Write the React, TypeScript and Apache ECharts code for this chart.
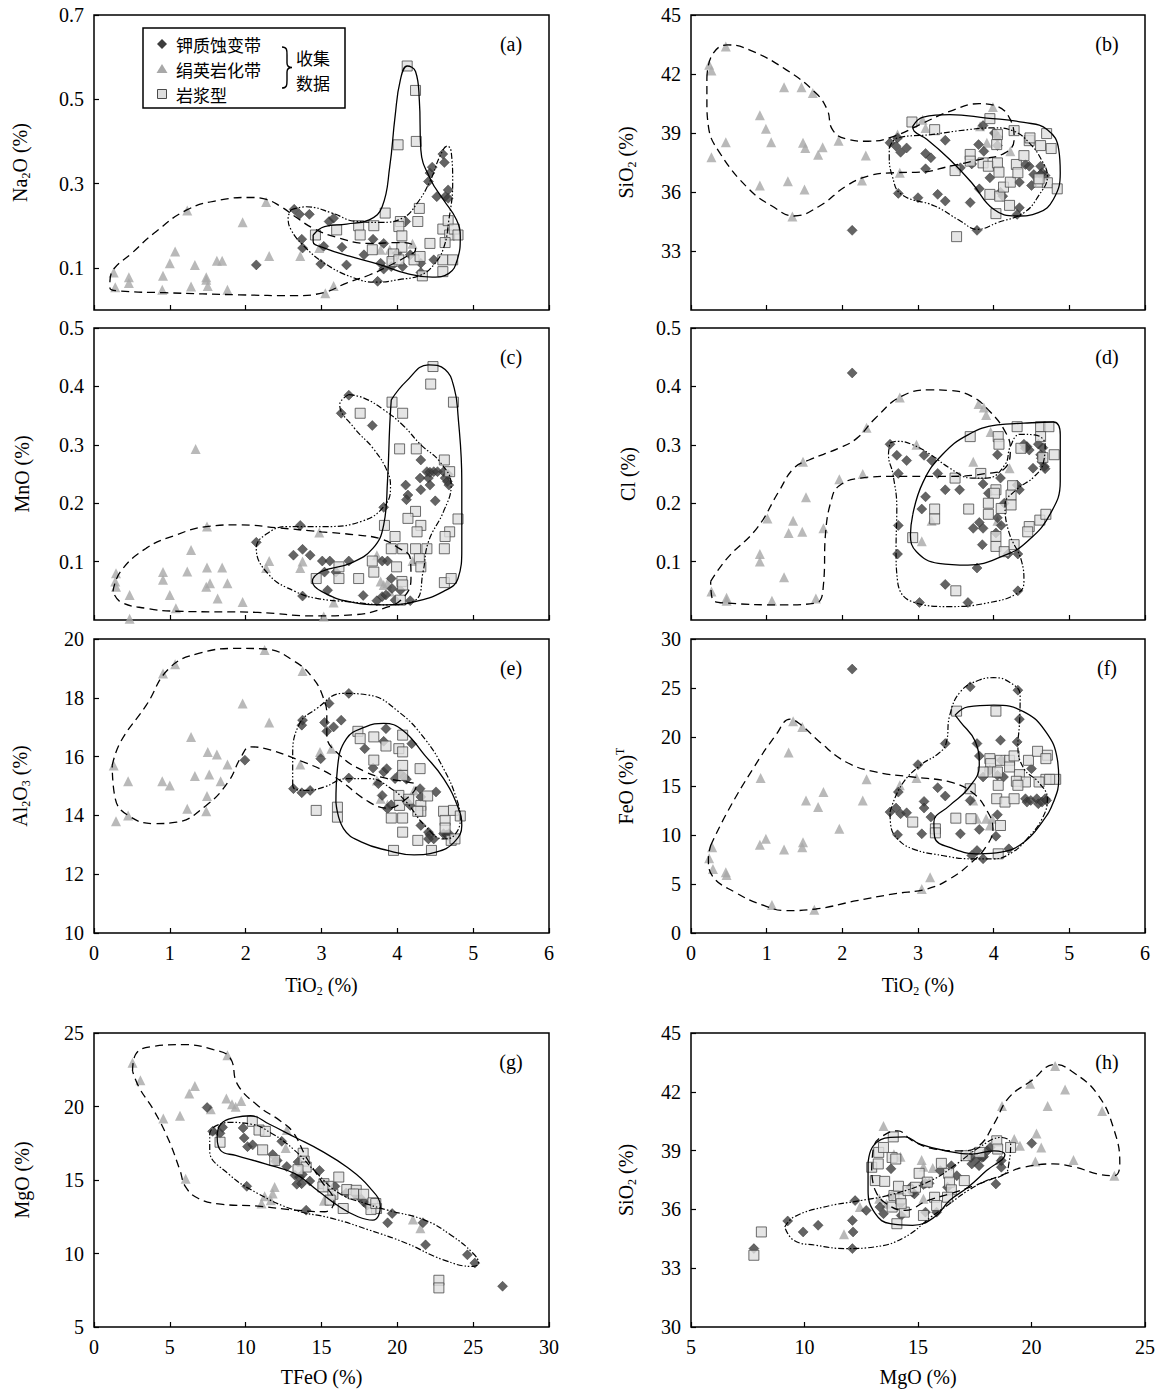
import React, { useEffect, useRef } from "react";
import * as echarts from "echarts";

const SERIF = '"Liberation Serif", "Times New Roman", serif';
const CJK = '"Noto Sans CJK SC", "Noto Sans CJK JP", sans-serif';

// ---------- (a) TiO2 vs Na2O ----------
const kA = [[2.64,0.239],[2.71,0.227],[2.84,0.227],[3.10,0.21],[3.16,0.218],[2.74,0.168],[2.75,0.147],[3.03,0.151],[3.27,0.149],[2.99,0.109],[3.33,0.107],[2.14,0.107],[3.56,0.131],[3.68,0.168],[3.82,0.158],[3.74,0.068],[3.82,0.097],[3.92,0.103],[4.07,0.103],[4.11,0.21],[4.17,0.131],[4.31,0.111],[4.31,0.089],[4.41,0.305],[4.43,0.325],[4.46,0.339],[4.60,0.37],[4.62,0.35],[4.52,0.269],[4.63,0.269],[4.67,0.285],[4.67,0.265],[4.48,0.119],[3.78,0.111],[4.0,0.135]];
const serA = [[0.26,0.089],[0.28,0.054],[0.46,0.078],[0.46,0.064],[0.91,0.081],[0.90,0.048],[1.0,0.111],[1.07,0.139],[1.28,0.056],[1.33,0.107],[1.48,0.078],[1.50,0.057],[1.48,0.072],[1.62,0.117],[1.69,0.117],[1.76,0.048],[1.23,0.236],[1.96,0.208],[2.27,0.256],[2.31,0.128],[2.72,0.128],[2.97,0.147],[3.05,0.04],[3.16,0.057],[3.90,0.143],[4.2,0.157],[3.78,0.143]];
const magA = [[4.13,0.579],[4.24,0.521],[4.01,0.392],[4.25,0.40],[2.92,0.178],[3.20,0.19],[3.49,0.2],[3.51,0.178],[3.69,0.2],[3.84,0.23],[4.04,0.21],[4.02,0.198],[4.06,0.176],[4.06,0.149],[3.67,0.143],[3.95,0.133],[3.93,0.115],[4.02,0.119],[4.22,0.119],[4.27,0.21],[4.29,0.241],[4.43,0.158],[4.33,0.081],[4.60,0.192],[4.67,0.212],[4.69,0.178],[4.75,0.192],[4.80,0.178],[4.63,0.16],[4.60,0.119],[4.73,0.119],[4.60,0.091],[4.30,0.127]];
const dashA = [[0.21,0.068],[0.25,0.095],[0.50,0.135],[0.79,0.182],[1.23,0.238],[1.67,0.261],[2.06,0.267],[2.26,0.263],[2.45,0.247],[2.65,0.222],[2.89,0.194],[3.19,0.173],[3.63,0.158],[4.02,0.16],[4.21,0.155],[4.24,0.143],[4.12,0.127],[3.87,0.103],[3.63,0.083],[3.33,0.064],[3.04,0.042],[2.65,0.034],[1.92,0.036],[0.94,0.041],[0.35,0.045],[0.21,0.052]];
const dotA = [[2.60,0.238],[2.80,0.245],[3.14,0.230],[3.43,0.211],[3.78,0.208],[4.07,0.218],[4.26,0.253],[4.44,0.309],[4.56,0.364],[4.66,0.389],[4.71,0.376],[4.73,0.301],[4.68,0.214],[4.61,0.147],[4.48,0.107],[4.31,0.083],[4.02,0.072],[3.73,0.066],[3.43,0.076],[3.04,0.111],[2.75,0.155],[2.60,0.19],[2.56,0.218]];
const solidA = [[2.89,0.178],[3.04,0.198],[3.33,0.204],[3.63,0.214],[3.80,0.245],[3.90,0.34],[3.97,0.459],[4.04,0.546],[4.13,0.579],[4.24,0.566],[4.29,0.498],[4.31,0.38],[4.44,0.309],[4.61,0.261],[4.78,0.214],[4.83,0.174],[4.79,0.119],[4.68,0.087],[4.46,0.078],[4.12,0.087],[3.78,0.107],[3.38,0.127],[3.04,0.147],[2.89,0.162]];

// ---------- (b) TiO2 vs SiO2 ----------
const kB = [[2.13,34.05],[2.63,38.50],[2.71,38.33],[2.77,38.02],[2.85,38.24],[2.73,38.75],[2.74,35.93],[3.0,35.71],[3.10,37.96],[3.17,37.74],[3.10,37.18],[3.26,35.88],[3.36,35.54],[3.36,38.63],[3.56,37.23],[3.69,35.46],[3.78,34.05],[3.71,37.43],[3.80,38.41],[3.81,36.16],[3.87,38.07],[3.86,39.38],[3.95,36.72],[4.05,38.80],[4.05,38.36],[4.09,35.99],[4.12,35.79],[4.34,36.50],[4.34,35.20],[4.31,34.86],[4.42,37.40],[4.47,37.31],[4.50,36.33],[4.53,36.89],[4.62,37.31],[4.64,36.98],[4.68,36.84],[4.62,36.89],[4.01,39.0]];
const serB = [[0.24,42.47],[0.27,42.18],[0.46,43.40],[0.46,38.53],[0.27,37.77],[0.91,39.90],[0.99,39.21],[1.06,38.53],[0.91,36.33],[1.23,41.33],[1.46,41.33],[1.61,41.03],[1.48,38.50],[1.51,38.24],[1.74,38.28],[1.68,37.9],[1.28,36.55],[1.50,36.13],[1.34,34.75],[1.95,38.61],[2.31,37.85],[2.26,36.59],[2.73,38.92],[2.76,36.98],[3.06,39.68],[3.10,39.26],[3.99,40.32],[3.82,39.34],[3.91,38.5],[4.22,38.07]];
const magB = [[2.92,39.56],[3.22,39.17],[3.49,37.09],[3.51,33.73],[3.95,39.73],[4.05,38.92],[4.04,38.41],[3.69,37.91],[3.69,37.57],[3.86,37.48],[3.93,37.31],[4.05,37.48],[4.07,37.01],[3.95,35.88],[4.08,35.79],[4.03,34.90],[4.13,36.25],[4.22,36.50],[4.21,35.32],[4.27,39.12],[4.30,37.40],[4.32,36.98],[4.40,37.85],[4.47,38.61],[4.48,38.75],[4.62,38.36],[4.70,38.97],[4.59,36.50],[4.71,36.47],[4.76,38.21],[4.84,36.16],[4.60,36.67]];
const dashB = [[0.21,41.79],[0.28,42.97],[0.48,43.48],[0.77,43.23],[1.26,42.21],[1.65,41.03],[1.80,40.19],[1.87,39.17],[2.05,38.70],[2.34,38.58],[2.68,38.83],[3.07,39.51],[3.42,40.10],[3.81,40.49],[4.05,40.35],[4.22,39.68],[4.27,38.67],[4.15,37.99],[3.81,37.65],[3.42,37.31],[3.03,37.01],[2.68,36.98],[2.34,36.81],[2.05,36.30],[1.70,35.29],[1.36,34.78],[1.07,35.29],[0.77,36.13],[0.38,37.99],[0.23,39.34],[0.21,40.69]];
const dotB = [[2.62,38.24],[2.73,38.75],[3.17,38.92],[3.66,39.17],[4.0,39.26],[4.27,39.09],[4.47,38.50],[4.63,37.65],[4.71,36.81],[4.59,35.79],[4.40,34.95],[4.05,34.44],[3.78,34.10],[3.56,34.53],[3.22,35.29],[2.78,35.88],[2.66,36.81],[2.62,37.82]];
const solidB = [[2.93,39.34],[3.07,39.81],[3.42,39.93],[3.91,39.76],[4.40,39.54],[4.71,39.17],[4.86,38.16],[4.88,36.98],[4.79,35.63],[4.59,34.95],[4.30,34.78],[4.0,35.12],[3.71,36.47],[3.42,37.65],[3.12,38.67],[2.95,39.09]];

// ---------- (c) TiO2 vs MnO ----------
const kC = [[3.36,0.385],[3.26,0.354],[3.67,0.333],[4.31,0.274],[4.30,0.243],[4.39,0.254],[4.41,0.243],[4.43,0.253],[4.48,0.254],[4.53,0.254],[4.61,0.254],[4.63,0.243],[4.66,0.237],[4.68,0.231],[4.67,0.249],[4.43,0.231],[4.31,0.223],[4.11,0.231],[4.14,0.214],[4.12,0.206],[4.50,0.204],[3.82,0.193],[2.14,0.133],[2.72,0.162],[2.63,0.111],[2.75,0.121],[2.85,0.111],[3.01,0.101],[3.11,0.101],[3.04,0.082],[3.19,0.082],[3.36,0.101],[3.08,0.051],[2.75,0.041],[3.55,0.042],[3.73,0.033],[3.80,0.04],[3.85,0.043],[3.92,0.071],[3.93,0.054],[3.97,0.034],[4.04,0.051],[4.17,0.033],[3.80,0.101],[3.87,0.101]];
const serC = [[1.34,0.293],[0.29,0.08],[0.28,0.066],[0.29,0.057],[0.47,0.043],[0.47,0.002],[0.91,0.082],[0.91,0.069],[1.0,0.043],[1.08,0.02],[1.23,0.083],[1.28,0.12],[1.49,0.16],[1.49,0.09],[1.48,0.057],[1.53,0.063],[1.69,0.09],[1.63,0.037],[1.76,0.063],[1.96,0.031],[2.31,0.101],[2.27,0.089],[2.75,0.1],[2.72,0.089],[2.97,0.15],[3.03,0.006],[3.16,0.03],[3.73,0.111],[3.78,0.066],[3.82,0.06],[3.90,0.049],[3.87,0.063],[4.2,0.101]];
const magC = [[4.47,0.434],[4.44,0.404],[3.93,0.373],[4.74,0.373],[3.51,0.354],[4.07,0.354],[4.03,0.293],[4.25,0.293],[4.62,0.274],[4.69,0.254],[4.24,0.186],[4.14,0.174],[4.31,0.162],[4.26,0.151],[4.80,0.173],[4.69,0.151],[4.63,0.143],[3.83,0.162],[3.97,0.143],[3.92,0.122],[4.07,0.122],[4.24,0.122],[4.39,0.122],[4.62,0.122],[4.29,0.105],[4.31,0.091],[3.67,0.101],[3.99,0.091],[3.69,0.082],[4.06,0.066],[4.07,0.06],[4.04,0.034],[3.23,0.091],[3.23,0.071],[3.49,0.071],[2.93,0.071],[4.62,0.064],[4.71,0.071]];
const dashC = [[0.25,0.049],[0.35,0.083],[0.69,0.123],[1.09,0.146],[1.48,0.16],[1.92,0.163],[2.41,0.158],[3.0,0.151],[3.43,0.146],[3.78,0.139],[4.02,0.123],[4.17,0.106],[4.18,0.071],[4.07,0.037],[3.82,0.02],[3.43,0.009],[2.89,0.007],[2.16,0.013],[1.09,0.015],[0.69,0.02],[0.35,0.031]];
const dotC = [[3.36,0.386],[3.56,0.38],[3.82,0.36],[4.07,0.334],[4.31,0.30],[4.56,0.271],[4.71,0.231],[4.61,0.186],[4.41,0.134],[4.34,0.083],[4.24,0.034],[3.87,0.026],[3.38,0.031],[2.94,0.037],[2.65,0.049],[2.31,0.077],[2.14,0.123],[2.26,0.146],[2.55,0.16],[3.04,0.16],[3.53,0.169],[3.82,0.194],[3.91,0.226],[3.87,0.254],[3.68,0.294],[3.43,0.329],[3.24,0.369]];
const solidC = [[3.92,0.377],[4.12,0.409],[4.41,0.437],[4.63,0.429],[4.75,0.397],[4.80,0.351],[4.85,0.237],[4.85,0.123],[4.80,0.071],[4.61,0.049],[4.22,0.031],[3.82,0.026],[3.38,0.031],[3.0,0.049],[2.88,0.066],[3.0,0.083],[3.38,0.097],[3.68,0.123],[3.82,0.163],[3.87,0.237],[3.90,0.334]];

// ---------- (d) TiO2 vs Cl ----------
const kD = [[2.13,0.423],[2.63,0.301],[2.72,0.282],[2.85,0.273],[2.74,0.251],[3.08,0.282],[3.18,0.273],[3.26,0.251],[3.10,0.211],[3.05,0.19],[2.74,0.162],[2.73,0.113],[3.02,0.030],[3.36,0.061],[3.36,0.223],[3.55,0.223],[3.66,0.030],[3.78,0.089],[3.85,0.129],[3.73,0.157],[3.81,0.167],[3.86,0.157],[3.86,0.233],[3.93,0.217],[4.03,0.149],[4.05,0.175],[4.10,0.162],[4.09,0.243],[4.14,0.2],[4.19,0.113],[4.32,0.113],[4.32,0.05],[4.31,0.231],[4.34,0.223],[4.40,0.301],[4.44,0.297],[4.47,0.291],[4.42,0.294],[4.52,0.26],[4.59,0.301],[4.62,0.283],[4.64,0.271],[4.67,0.263],[4.63,0.277],[4.65,0.295],[4.68,0.259],[4.05,0.283]];
const serD = [[0.27,0.049],[0.47,0.038],[0.47,0.033],[0.91,0.113],[0.91,0.10],[1.01,0.174],[1.07,0.033],[1.23,0.073],[1.29,0.149],[1.35,0.17],[1.47,0.151],[1.48,0.271],[1.52,0.21],[1.65,0.037],[1.75,0.157],[1.96,0.241],[2.27,0.25],[2.32,0.329],[2.76,0.381],[2.98,0.30],[3.05,0.135],[3.18,0.17],[3.73,0.271],[3.80,0.37],[3.87,0.364],[3.90,0.351],[3.96,0.322],[4.21,0.26],[4.05,0.17]];
const magD = [[4.31,0.331],[4.62,0.331],[4.73,0.331],[4.62,0.314],[3.69,0.314],[4.06,0.314],[4.07,0.301],[4.36,0.294],[4.80,0.283],[4.65,0.278],[3.83,0.251],[3.49,0.243],[4.03,0.223],[4.01,0.217],[4.25,0.23],[4.23,0.214],[4.23,0.197],[3.93,0.2],[3.93,0.181],[4.10,0.191],[3.67,0.19],[3.22,0.19],[3.22,0.173],[4.61,0.171],[4.69,0.181],[4.47,0.16],[4.45,0.151],[2.93,0.141],[4.03,0.143],[4.03,0.126],[4.14,0.117],[4.27,0.129],[3.50,0.05]];
const dashD = [[0.26,0.066],[0.48,0.106],[0.87,0.157],[1.16,0.22],[1.36,0.26],[1.56,0.274],[1.95,0.294],[2.19,0.311],[2.44,0.346],[2.78,0.383],[3.17,0.394],[3.42,0.393],[3.71,0.383],[3.95,0.357],[4.15,0.323],[4.22,0.294],[4.15,0.26],[3.91,0.251],[3.42,0.246],[2.68,0.246],[2.24,0.243],[1.95,0.229],[1.85,0.203],[1.78,0.151],[1.75,0.06],[1.65,0.029],[1.21,0.026],[0.48,0.029],[0.28,0.037]];
const dotD = [[2.63,0.303],[2.73,0.306],[2.93,0.30],[3.17,0.283],[3.42,0.26],[3.71,0.243],[3.91,0.243],[4.15,0.266],[4.22,0.297],[4.35,0.318],[4.54,0.317],[4.68,0.30],[4.66,0.271],[4.54,0.246],[4.30,0.223],[4.15,0.197],[4.20,0.151],[4.37,0.10],[4.40,0.066],[4.32,0.046],[3.91,0.029],[3.42,0.023],[2.93,0.031],[2.73,0.066],[2.71,0.123],[2.72,0.191],[2.67,0.249],[2.61,0.283]];
const solidD = [[2.93,0.18],[3.07,0.237],[3.32,0.283],[3.66,0.317],[4.05,0.334],[4.40,0.337],[4.79,0.339],[4.88,0.317],[4.88,0.237],[4.74,0.18],[4.44,0.134],[4.15,0.111],[3.66,0.094],[3.27,0.097],[2.98,0.117],[2.90,0.146]];

// ---------- (e) TiO2 vs Al2O3 ----------
const kE = [[1.99,15.88],[2.75,17.24],[2.74,17.07],[2.74,14.77],[2.63,14.91],[2.85,14.85],[3.10,17.81],[3.04,17.16],[3.07,16.86],[3.16,17.01],[3.26,17.24],[3.36,18.15],[2.99,15.93],[3.36,15.27],[3.57,16.27],[3.68,15.61],[3.82,16.52],[3.85,16.95],[3.82,15.48],[3.86,15.59],[3.97,15.25],[4.04,15.42],[4.09,15.31],[4.12,15.23],[4.19,16.44],[3.75,15.08],[3.80,14.68],[4.11,14.51],[4.17,14.34],[4.31,14.63],[4.30,14.91],[4.51,14.80],[4.31,13.66],[4.41,13.43],[4.43,13.34],[4.48,13.20],[4.41,13.20],[4.61,13.38],[4.65,13.34],[4.68,13.38],[4.67,13.32],[3.87,14.23],[3.92,14.36]];
const serE = [[0.29,13.80],[0.26,15.70],[0.45,15.16],[0.45,14.0],[0.91,18.83],[1.07,19.14],[0.90,15.16],[1.0,15.02],[1.23,14.23],[1.28,16.67],[1.33,15.34],[1.49,14.66],[1.50,16.16],[1.52,15.39],[1.62,16.07],[1.67,15.16],[1.76,15.73],[1.48,14.14],[1.96,17.81],[2.25,19.63],[2.31,17.16],[2.75,18.91],[2.72,15.73],[2.98,16.16],[3.13,16.27],[3.73,15.19],[3.78,14.57],[3.87,14.36],[4.22,14.85]];
const magE = [[2.93,14.17],[3.21,14.28],[3.21,13.94],[3.48,16.86],[3.51,16.61],[3.69,16.67],[3.85,16.36],[3.69,15.88],[4.07,16.73],[4.02,16.27],[4.07,16.16],[4.07,15.70],[4.07,15.36],[4.30,15.59],[4.02,14.68],[4.03,14.34],[4.07,13.91],[3.92,13.91],[4.15,14.55],[4.31,14.34],[4.31,14.14],[4.40,14.66],[4.27,14.14],[4.07,13.43],[4.27,13.15],[3.95,12.81],[4.45,12.81],[4.61,14.14],[4.63,13.83],[4.74,14.17],[4.83,13.98],[4.71,13.15],[4.76,13.20],[4.63,13.57]];
const dashE = [[0.24,15.70],[0.35,16.50],[0.69,17.75],[0.99,19.0],[1.38,19.51],[1.92,19.68],[2.26,19.66],[2.65,19.23],[2.89,18.66],[3.02,18.03],[3.07,17.41],[3.07,16.73],[3.24,16.05],[3.58,15.48],[3.87,15.25],[4.12,15.14],[4.25,15.02],[4.12,14.57],[3.87,14.25],[3.63,14.45],[3.14,15.36],[2.65,15.93],[2.26,16.27],[2.06,16.33],[1.94,15.99],[1.77,15.14],[1.48,14.34],[1.09,13.77],[0.79,13.72],[0.45,14.0],[0.28,14.57]];
const dotE = [[2.62,15.02],[2.62,15.93],[2.70,17.07],[2.94,17.64],[3.28,18.15],[3.63,18.09],[4.02,17.52],[4.36,16.61],[4.61,15.59],[4.78,14.57],[4.83,13.89],[4.75,13.32],[4.61,13.20],[4.36,13.66],[4.12,14.45],[3.92,14.91],[3.63,15.25],[3.33,15.25],[3.04,14.97],[2.80,14.85],[2.65,14.89]];
const solidE = [[3.19,14.45],[3.21,15.59],[3.33,16.61],[3.58,17.01],[3.82,17.13],[4.07,16.90],[4.36,16.05],[4.61,15.25],[4.80,14.28],[4.85,13.66],[4.75,13.09],[4.51,12.75],[4.22,12.66],[3.87,12.81],[3.53,13.09],[3.29,13.55]];

// ---------- (f) TiO2 vs FeO(T) ----------
const kF = [[2.13,26.93],[3.69,25.12],[4.32,24.78],[4.34,21.82],[3.36,19.33],[3.78,19.33],[4.09,19.67],[4.31,19.5],[3.0,17.18],[3.26,14.83],[3.36,13.98],[3.08,13.43],[3.08,12.75],[2.63,12.34],[2.71,12.75],[2.77,12.17],[2.85,12.27],[2.74,14.38],[2.73,10.02],[3.05,10.12],[3.17,11.83],[3.56,10.12],[3.69,13.53],[3.81,10.57],[3.78,8.42],[3.71,7.91],[3.86,7.57],[3.81,18.07],[3.86,15.92],[3.95,16.60],[4.05,16.09],[4.10,17.62],[4.13,15.92],[4.05,12.07],[4.03,9.88],[4.20,8.59],[4.50,16.77],[4.42,13.70],[4.44,13.36],[4.49,13.53],[4.57,13.70],[4.59,13.19],[4.64,13.36],[4.68,13.70],[4.70,13.53]];
const serF = [[0.24,7.63],[0.28,8.76],[0.29,6.54],[0.46,6.20],[0.47,5.93],[0.91,9.0],[0.92,15.82],[0.99,9.61],[1.07,2.86],[1.23,8.52],[1.29,18.41],[1.35,21.61],[1.47,21.03],[1.48,9.27],[1.47,8.76],[1.52,13.53],[1.68,12.85],[1.75,14.38],[1.63,2.38],[1.96,10.63],[2.27,13.53],[2.32,15.68],[2.76,15.07],[2.98,15.82],[3.05,4.50],[3.16,5.69],[3.73,13.53],[3.78,11.66],[3.90,11.66],[3.95,10.97],[3.98,11.66]];
const magF = [[3.51,22.64],[4.03,22.64],[3.95,17.79],[3.96,17.28],[3.95,16.43],[4.09,17.62],[4.21,17.62],[4.27,18.07],[4.05,16.43],[4.06,15.07],[3.86,16.43],[4.34,16.16],[4.21,16.94],[4.42,15.41],[4.30,15.48],[4.32,15.07],[4.46,17.62],[4.58,18.54],[4.71,18.14],[4.69,17.79],[4.82,15.68],[4.69,15.68],[4.60,15.41],[4.74,15.68],[4.04,13.70],[4.15,13.36],[4.27,13.70],[3.69,14.72],[3.50,11.72],[3.70,11.66],[2.93,11.32],[3.23,10.63],[3.23,10.22],[4.09,10.97],[4.06,8.08]];
const dashF = [[0.26,8.93],[0.48,12.34],[0.82,16.77],[1.12,20.18],[1.31,21.82],[1.46,21.20],[1.70,19.50],[2.05,17.45],[2.44,16.43],[2.93,15.92],[3.42,15.41],[3.71,14.38],[3.91,12.51],[3.99,10.63],[3.91,8.93],[3.71,7.22],[3.42,5.52],[3.12,4.50],[2.68,3.99],[2.19,3.30],[1.65,2.45],[1.26,2.28],[0.97,2.79],[0.58,4.16],[0.28,5.86],[0.23,7.57]];
const dotF = [[2.63,12.34],[2.78,15.07],[3.03,17.11],[3.27,18.31],[3.37,19.33],[3.42,22.23],[3.56,24.61],[3.81,25.81],[4.0,26.05],[4.20,25.64],[4.35,24.27],[4.34,21.20],[4.32,19.16],[4.40,16.77],[4.59,15.41],[4.71,13.70],[4.64,11.66],[4.44,9.61],[4.25,8.25],[4.0,7.57],[3.71,7.57],[3.32,7.91],[2.93,8.59],[2.73,9.61],[2.64,10.97]];
const solidF = [[3.49,22.23],[3.66,23.08],[4.0,23.25],[4.40,22.57],[4.69,20.52],[4.84,17.79],[4.86,15.75],[4.79,13.36],[4.64,11.32],[4.40,9.27],[4.10,8.25],[3.81,8.08],[3.47,8.59],[3.22,9.78],[3.21,11.32],[3.42,13.02],[3.66,14.72],[3.81,17.11],[3.76,19.50],[3.56,21.55]];

// ---------- (g) TFeO vs MgO ----------
const kG = [[7.46,19.93],[7.82,18.31],[8.31,18.18],[8.48,18.58],[9.83,18.54],[9.90,17.86],[10.12,17.27],[10.46,17.39],[10.07,14.57],[11.78,16.73],[11.97,16.28],[12.38,17.63],[12.71,15.92],[13.45,16.22],[13.25,15.32],[13.37,14.71],[13.55,15.20],[13.74,15.38],[13.69,14.75],[14.23,14.93],[14.87,15.65],[13.99,12.95],[15.89,14.57],[16.63,14.12],[17.16,14.08],[17.53,13.81],[17.78,13.51],[18.02,13.29],[19.36,12.09],[19.66,12.72],[21.69,12.09],[21.86,10.59],[24.62,9.91],[25.11,9.35],[26.94,7.77],[15.70,13.85],[12.08,16.33]];
const serG = [[2.54,22.97],[3.06,21.78],[4.57,19.19],[5.67,19.37],[6.28,20.88],[6.65,21.40],[6.04,15.09],[7.70,19.82],[8.73,20.54],[8.80,23.49],[9.10,20.16],[9.34,19.98],[9.71,20.38],[7.95,18.36],[11.05,13.40],[11.25,13.90],[11.78,14.08],[11.91,14.53],[11.66,13.63],[12.71,18.40],[12.64,17.18],[15.16,13.58],[21.03,12.32],[21.52,11.71],[15.09,14.75]];
const magG = [[10.44,18.99],[10.88,18.40],[11.30,18.31],[8.31,17.57],[11.12,17.05],[11.91,16.33],[13.79,16.82],[13.86,16.28],[13.99,15.88],[13.45,15.70],[15.16,14.75],[15.45,14.57],[16.14,15.20],[15.75,14.03],[15.57,13.63],[16.43,13.06],[16.67,14.35],[17.29,14.30],[17.78,14.03],[18.39,13.45],[18.63,13.06],[18.26,12.99],[18.58,13.40],[17.11,14.05],[22.74,8.18],[22.74,7.66],[15.09,14.53]];
const dashG = [[2.54,22.41],[2.74,23.54],[3.96,24.10],[5.92,24.21],[7.87,23.87],[8.97,23.31],[9.46,21.51],[10.81,20.05],[12.27,19.03],[13.13,18.24],[13.99,16.55],[14.96,14.98],[15.82,13.51],[15.21,12.84],[13.25,12.95],[10.81,13.22],[8.36,13.36],[6.89,13.74],[6.04,14.53],[5.67,15.65],[4.94,17.68],[3.96,19.71],[2.98,21.28]];
const dotG = [[7.87,18.58],[8.85,18.92],[10.32,18.81],[11.78,18.13],[13.25,17.0],[14.72,15.43],[16.19,14.08],[17.90,13.40],[19.36,12.95],[21.81,12.27],[23.52,11.26],[24.99,10.02],[25.35,9.35],[24.99,9.12],[23.03,9.57],[20.59,10.70],[18.14,11.60],[15.70,12.39],[13.25,12.95],[10.81,14.08],[8.85,15.43],[7.63,17.0],[7.63,18.13]];
const solidG = [[8.12,17.91],[8.36,18.81],[9.34,19.26],[10.32,19.37],[11.54,18.81],[13.25,17.91],[14.96,17.0],[16.67,15.88],[18.14,14.53],[18.88,13.18],[18.39,12.27],[17.41,12.50],[16.19,13.18],[14.72,14.30],[13.25,15.43],[11.30,16.10],[9.34,16.67],[8.36,17.0]];

// ---------- (h) MgO vs SiO2 ----------
const kH = [[7.77,34.0],[9.26,35.41],[9.94,34.85],[10.60,35.19],[12.11,35.44],[12.14,34.85],[12.11,34.0],[12.23,36.45],[12.72,35.95],[13.32,36.12],[13.48,35.78],[13.81,38.07],[13.86,36.71],[14.23,36.29],[14.26,35.69],[14.67,37.13],[14.76,36.88],[14.84,36.79],[15.24,37.27],[15.33,37.33],[15.49,37.33],[15.33,35.86],[15.82,35.86],[15.98,37.98],[16.30,37.13],[16.47,38.23],[16.71,37.72],[17.33,38.65],[17.37,38.32],[17.61,38.57],[17.69,38.23],[17.89,38.69],[18.05,38.99],[18.18,39.16],[18.43,37.30],[18.67,38.15],[18.67,38.49],[20.01,39.37],[17.82,38.65]];
const serH = [[21.04,43.31],[19.94,42.41],[21.48,42.12],[20.71,41.28],[18.70,41.28],[23.11,41.02],[20.22,39.87],[19.24,39.59],[19.49,39.25],[20.43,39.16],[20.17,38.45],[21.85,38.52],[23.65,37.72],[13.48,40.26],[13.94,38.82],[14.23,38.69],[15.16,38.52],[15.24,38.18],[15.65,38.11],[13.29,36.54],[13.61,36.29],[15.24,36.54],[12.44,36.12],[11.74,34.73],[17.12,38.82],[18.59,38.52]];
const magH = [[7.77,33.66],[8.10,34.85],[12.96,38.15],[13.25,38.32],[13.12,37.47],[13.53,37.43],[13.27,38.91],[13.48,39.16],[13.91,39.70],[13.86,38.65],[14.02,38.57],[13.94,36.71],[13.86,36.12],[14.07,35.27],[14.40,35.86],[14.14,37.18],[14.23,36.54],[14.26,36.29],[14.56,36.96],[14.89,37.13],[15.05,37.84],[15.24,35.69],[15.73,36.62],[15.82,36.20],[16.03,38.35],[16.35,37.84],[16.39,37.39],[16.47,37.0],[16.30,36.62],[17.04,37.47],[17.12,38.74],[17.72,38.91],[18.47,39.50],[18.51,39.08],[19.08,39.16],[15.41,37.39]];
const dashH = [[12.96,37.98],[13.04,39.16],[13.45,39.75],[14.10,40.01],[14.76,39.50],[15.73,39.08],[16.88,38.99],[17.69,39.25],[18.34,40.35],[19.0,41.70],[19.98,42.55],[21.04,43.39],[21.77,43.05],[22.91,41.87],[23.65,40.01],[23.89,38.32],[23.65,37.72],[22.91,37.81],[21.93,38.15],[20.95,38.32],[19.65,38.15],[18.83,37.81],[17.69,37.30],[16.39,36.79],[15.41,36.45],[14.43,35.95],[13.61,36.29],[13.12,36.96]];
const dotH = [[9.13,35.10],[9.53,35.61],[10.84,36.12],[12.47,36.45],[13.94,36.79],[15.57,37.47],[16.71,38.32],[17.69,39.16],[18.67,39.67],[19.08,39.33],[19.0,38.32],[18.83,37.81],[18.02,37.47],[17.20,36.96],[16.39,36.29],[15.57,35.61],[14.43,34.59],[13.12,34.09],[11.82,34.0],[10.51,34.17],[9.53,34.42]];
const solidH = [[12.80,38.32],[13.04,39.25],[13.78,39.67],[14.43,39.70],[15.08,39.33],[16.22,38.99],[17.37,38.82],[18.34,38.99],[18.83,38.79],[18.02,37.98],[17.20,37.13],[16.39,36.45],[15.73,35.61],[14.76,35.19],[13.78,35.27],[13.12,35.78],[12.80,36.96]];

// ---------- tick labels & names ----------
const ticksTiO2 = [0, 1, 2, 3, 4, 5, 6];
const ticksNa2O = [0.1, 0.3, 0.5, 0.7];
const ticksSiO2top = [33, 36, 39, 42, 45];
const ticksMnO = [0.1, 0.2, 0.3, 0.4, 0.5];
const ticksCl = [0.1, 0.2, 0.3, 0.4, 0.5];
const ticksAl2O3 = [10, 12, 14, 16, 18, 20];
const ticksFeO = [0, 5, 10, 15, 20, 25, 30];
const ticksTFeO = [0, 5, 10, 15, 20, 25, 30];
const ticksMgOy = [5, 10, 15, 20, 25];
const ticksMgOx = [5, 10, 15, 20, 25];
const ticksSiO2bot = [30, 33, 36, 39, 42, 45];

const legendNames = ["钾质蚀变带", "绢英岩化带", "岩浆型"];
const braceText = ["收集", "数据"];

type Panel = {
  tag: string; left: boolean;
  grid: { left: number; top: number; width: number; height: number };
  xMin: number; xMax: number; xTicks: number[]; xLabels: boolean; xName?: string;
  yMin: number; yMax: number; yTicks: number[]; yName: string;
  k: number[][]; s: number[][]; m: number[][];
  dash: number[][]; dot: number[][]; solid: number[][];
};

const LX = 94, RX = 691, LW = 455, RW = 454;
const panels: Panel[] = [
  { tag: "(a)", left: true, grid: { left: LX, top: 15, width: LW, height: 295 }, xMin: 0, xMax: 6, xTicks: ticksTiO2, xLabels: false,
    yMin: 0, yMax: 0.7, yTicks: ticksNa2O, yName: "{n|Na}{s|2}{n|O (%)}", k: kA, s: serA, m: magA, dash: dashA, dot: dotA, solid: solidA },
  { tag: "(b)", left: false, grid: { left: RX, top: 15, width: RW, height: 295 }, xMin: 0, xMax: 6, xTicks: ticksTiO2, xLabels: false,
    yMin: 30, yMax: 45, yTicks: ticksSiO2top, yName: "{n|SiO}{s|2}{n| (%)}", k: kB, s: serB, m: magB, dash: dashB, dot: dotB, solid: solidB },
  { tag: "(c)", left: true, grid: { left: LX, top: 328, width: LW, height: 292 }, xMin: 0, xMax: 6, xTicks: ticksTiO2, xLabels: false,
    yMin: 0, yMax: 0.5, yTicks: ticksMnO, yName: "{n|MnO (%)}", k: kC, s: serC, m: magC, dash: dashC, dot: dotC, solid: solidC },
  { tag: "(d)", left: false, grid: { left: RX, top: 328, width: RW, height: 292 }, xMin: 0, xMax: 6, xTicks: ticksTiO2, xLabels: false,
    yMin: 0, yMax: 0.5, yTicks: ticksCl, yName: "{n|Cl (%)}", k: kD, s: serD, m: magD, dash: dashD, dot: dotD, solid: solidD },
  { tag: "(e)", left: true, grid: { left: LX, top: 639, width: LW, height: 294 }, xMin: 0, xMax: 6, xTicks: ticksTiO2, xLabels: true, xName: "{n|TiO}{s|2}{n| (%)}",
    yMin: 10, yMax: 20, yTicks: ticksAl2O3, yName: "{n|Al}{s|2}{n|O}{s|3}{n| (%)}", k: kE, s: serE, m: magE, dash: dashE, dot: dotE, solid: solidE },
  { tag: "(f)", left: false, grid: { left: RX, top: 639, width: RW, height: 294 }, xMin: 0, xMax: 6, xTicks: ticksTiO2, xLabels: true, xName: "{n|TiO}{s|2}{n| (%)}",
    yMin: 0, yMax: 30, yTicks: ticksFeO, yName: "{n|FeO (%)}{t|T}", k: kF, s: serF, m: magF, dash: dashF, dot: dotF, solid: solidF },
  { tag: "(g)", left: true, grid: { left: LX, top: 1033, width: LW, height: 294 }, xMin: 0, xMax: 30, xTicks: ticksTFeO, xLabels: true, xName: "{n|TFeO (%)}",
    yMin: 5, yMax: 25, yTicks: ticksMgOy, yName: "{n|MgO (%)}", k: kG, s: serG, m: magG, dash: dashG, dot: dotG, solid: solidG },
  { tag: "(h)", left: false, grid: { left: RX, top: 1033, width: RW, height: 294 }, xMin: 5, xMax: 25, xTicks: ticksMgOx, xLabels: true, xName: "{n|MgO (%)}",
    yMin: 30, yMax: 45, yTicks: ticksSiO2bot, yName: "{n|SiO}{s|2}{n| (%)}", k: kH, s: serH, m: magH, dash: dashH, dot: dotH, solid: solidH },
];

const FS = 20;
const rich = {
  n: { fontFamily: SERIF, fontSize: FS, color: "#000" },
  s: { fontFamily: SERIF, fontSize: 12, color: "#000", verticalAlign: "bottom", lineHeight: 24 },
  t: { fontFamily: SERIF, fontSize: 12, color: "#000", verticalAlign: "top", lineHeight: 24 },
};

const closeLoop = (pts: number[][]) => [...pts, pts[0]];

let braceRegistered = false;
function registerBrace() {
  if (braceRegistered) return;
  const d = "M0,0 C5,0 5,3 5,8 L5,16 C5,19 7,20.5 10,20.5 C7,20.5 5,22 5,25 L5,33 C5,38 5,41 0,41";
  echarts.graphic.registerShape("brace", (echarts.graphic as any).extendPath(d, {}));
  braceRegistered = true;
}

function buildOption() {
  const grid: any[] = [];
  const xAxis: any[] = [];
  const yAxis: any[] = [];
  const series: any[] = [];
  const graphic: any[] = [];

  panels.forEach((p, i) => {
    grid.push({ ...p.grid, show: true, borderColor: "#000", borderWidth: 1.5, backgroundColor: "transparent" });
    xAxis.push({
      type: "value", gridIndex: i, min: p.xMin, max: p.xMax,
      axisLine: { show: false }, splitLine: { show: false },
      axisTick: { show: true, inside: true, length: 5, lineStyle: { color: "#000", width: 1.2 }, customValues: p.xTicks },
      axisLabel: { show: p.xLabels, customValues: p.xTicks, fontFamily: SERIF, fontSize: FS, color: "#000", margin: 10 },
      name: p.xName || "", nameLocation: "middle", nameGap: 40,
      nameTextStyle: { fontFamily: SERIF, fontSize: FS, color: "#000", rich },
    });
    yAxis.push({
      type: "value", gridIndex: i, min: p.yMin, max: p.yMax,
      axisLine: { show: false }, splitLine: { show: false },
      axisTick: { show: true, inside: true, length: 5, lineStyle: { color: "#000", width: 1.2 }, customValues: p.yTicks },
      axisLabel: { show: true, customValues: p.yTicks, fontFamily: SERIF, fontSize: FS, color: "#000", margin: 10 },
      name: p.yName, nameLocation: "middle", nameGap: p.left ? 62 : 53, nameRotate: 90,
      nameTextStyle: { fontFamily: SERIF, fontSize: FS, color: "#000", rich },
    });
    const base = { xAxisIndex: i, yAxisIndex: i, silent: true };
    series.push({ ...base, type: "scatter", name: legendNames[1], data: p.s, symbol: "triangle", symbolSize: 10, itemStyle: { color: "#a8a8a8" } });
    series.push({ ...base, type: "scatter", name: legendNames[0], data: p.k, symbol: "diamond", symbolSize: 10, itemStyle: { color: "#3d3d3d", borderColor: "#222", borderWidth: 0.5 } });
    series.push({ ...base, type: "scatter", name: legendNames[2], data: p.m, symbol: "rect", symbolSize: 10, itemStyle: { color: "#dedede", borderColor: "#4a4a4a", borderWidth: 1 } });
    const lineBase = { ...base, type: "line", symbol: "none", smooth: 0.45, z: 5 };
    series.push({ ...lineBase, data: closeLoop(p.dash), lineStyle: { color: "#000", width: 1.3, type: [8, 5] } });
    series.push({ ...lineBase, data: closeLoop(p.dot), lineStyle: { color: "#000", width: 1.2, type: [6, 2, 1.5, 2, 1.5, 2] } });
    series.push({ ...lineBase, data: closeLoop(p.solid), lineStyle: { color: "#000", width: 1.3, type: "solid" } });

    graphic.push({
      type: "text", x: p.grid.left + p.grid.width - 38, y: p.grid.top + 29, z: 10,
      style: { text: p.tag, font: `${FS}px ${SERIF}`, fill: "#000", align: "center", verticalAlign: "middle" },
    });
  });

  // legend box in panel (a)
  const lx = 143, ly = 28;
  graphic.push({ type: "rect", shape: { x: lx, y: ly, width: 202, height: 80 }, style: { fill: "#fff", stroke: "#000", lineWidth: 1.5 }, z: 20 });
  graphic.push({ type: "polygon", shape: { points: [[162, 39], [167, 44], [162, 49], [157, 44]] }, style: { fill: "#3d3d3d" }, z: 21 });
  graphic.push({ type: "polygon", shape: { points: [[162, 64], [167.5, 73], [156.5, 73]] }, style: { fill: "#a8a8a8" }, z: 21 });
  graphic.push({ type: "rect", shape: { x: 157.5, y: 89.5, width: 9, height: 9 }, style: { fill: "#dedede", stroke: "#4a4a4a", lineWidth: 1 }, z: 21 });
  const rowsY = [44, 69, 94];
  legendNames.forEach((t, i) => {
    graphic.push({ type: "text", x: 176, y: rowsY[i], z: 21, style: { text: t, font: `17px ${CJK}`, lineHeight: 17, fill: "#000", verticalAlign: "middle" } });
  });
  graphic.push({ type: "brace", x: 282, y: 47, z: 21, style: { fill: "none", stroke: "#000", lineWidth: 1.4 } });
  graphic.push({ type: "text", x: 296, y: 57, z: 21, style: { text: braceText[0], font: `17px ${CJK}`, lineHeight: 17, fill: "#000", verticalAlign: "middle" } });
  graphic.push({ type: "text", x: 296, y: 82, z: 21, style: { text: braceText[1], font: `17px ${CJK}`, lineHeight: 17, fill: "#000", verticalAlign: "middle" } });

  return { animation: false, backgroundColor: "#fff", grid, xAxis, yAxis, series, graphic };
}

export default function App() {
  const ref = useRef<HTMLDivElement>(null);
  useEffect(() => {
    document.body.style.margin = "0";
    if (!ref.current) return;
    registerBrace();
    const chart = echarts.init(ref.current, undefined, { renderer: "svg" });
    chart.setOption(buildOption() as any);
    return () => chart.dispose();
  }, []);
  return <div ref={ref} style={{ width: 1160, height: 1391, background: "#fff" }} />;
}
